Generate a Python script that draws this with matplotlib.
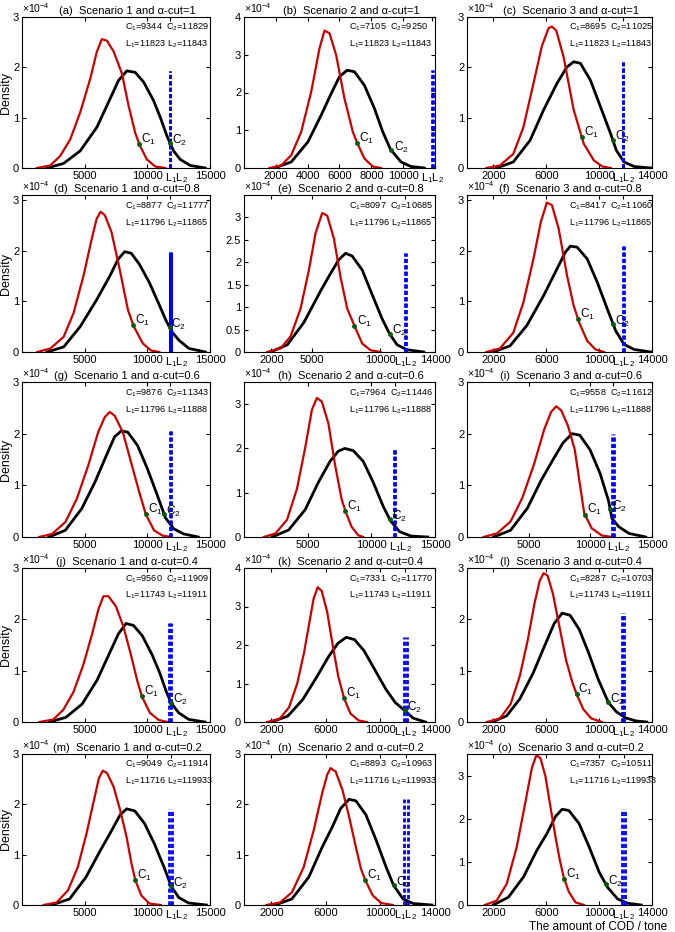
import numpy as np
import matplotlib.pyplot as plt
from matplotlib.transforms import ScaledTranslation

plt.rcParams['font.family'] = ['Liberation Sans', 'DejaVu Sans']
plt.rcParams['mathtext.fontset'] = 'custom'
plt.rcParams['mathtext.rm'] = 'Liberation Sans'

# panel info, order a..o (row by row)
tags = ['(a)', '(b)', '(c)', '(d)', '(e)', '(f)', '(g)', '(h)', '(i)',
        '(j)', '(k)', '(l)', '(m)', '(n)', '(o)']
scenario = [1, 2, 3] * 5
alpha_cut = ['1'] * 3 + ['0.8'] * 3 + ['0.6'] * 3 + ['0.4'] * 3 + ['0.2'] * 3
c1 = [9344, 7105, 8695, 8877, 8097, 8417, 9876, 7964, 9558, 9560, 7331, 8287, 9049, 8893, 7357]
c2 = [11829, 9250, 11025, 11777, 10685, 11060, 11343, 11446, 11612, 11909, 11770, 10703, 11914, 10963, 10511]
l1 = [11823] * 3 + [11796] * 3 + [11796] * 3 + [11743] * 3 + [11716] * 3
l2 = [11843] * 3 + [11865] * 3 + [11888] * 3 + [11911] * 3 + [11993] * 3
l2_text = ['11843'] * 3 + ['11865'] * 3 + ['11888'] * 3 + ['11911'] * 3 + ['119933'] * 3

# density curves (y in units of 1e-4)
red_x = [
    [1190, 2250, 3050, 3850, 4650, 5450, 5970, 6370, 6770, 7300, 7970, 8500, 9030, 9380, 9960, 10630, 11430],
    [1609, 2341, 2968, 3595, 4222, 4744, 5058, 5372, 5790, 6312, 6835, 7106, 7566, 8089, 8611],
    [1473, 2489, 3505, 4267, 5029, 5664, 6172, 6426, 6756, 7315, 8077, 8839, 9601, 10236, 10871],
    [1220, 2272, 3324, 4113, 4902, 5560, 5954, 6270, 6612, 7138, 7795, 8453, 8926, 9637, 10294, 10952],
    [1708, 2684, 3416, 4148, 4758, 5246, 5734, 6100, 6588, 7076, 7564, 8101, 8662, 9272, 10004],
    [1473, 2489, 3505, 4267, 5029, 5588, 6045, 6426, 6934, 7569, 8077, 8509, 9093, 9728, 10363],
    [1362, 2410, 3458, 4375, 5292, 6078, 6602, 6995, 7388, 8043, 8698, 9353, 9877, 10532, 11187, 11842],
    [1560, 2470, 3380, 4160, 4810, 5330, 5720, 6110, 6630, 7150, 7670, 7982, 8450, 8970, 9360],
    [1339, 2435, 3531, 4490, 5449, 6271, 6819, 7230, 7641, 8189, 8737, 9148, 9504, 10107, 10929, 11751],
    [1400, 2500, 3300, 4100, 4900, 5600, 6100, 6500, 6900, 7500, 8100, 8700, 9200, 9560, 10200, 10900, 11600],
    [1700, 2600, 3300, 3900, 4400, 4800, 5100, 5400, 5700, 6100, 6500, 6900, 7331, 7800, 8400, 9000],
    [1500, 2500, 3300, 4000, 4600, 5100, 5500, 5800, 6100, 6500, 7000, 7500, 8000, 8287, 8800, 9400, 10200],
    [1716, 2756, 3666, 4446, 5148, 5746, 6136, 6448, 6786, 7306, 7826, 8346, 8736, 9048, 9516, 10166, 11076],
    [1655, 2643, 3508, 4372, 5113, 5730, 6101, 6348, 6718, 7212, 7706, 8200, 8571, 8892, 9435, 10053, 10917],
    [1349, 2240, 3003, 3767, 4403, 4912, 5243, 5548, 5930, 6312, 6694, 7025, 7330, 7712, 8221, 8857],
]
red_y = [
    [0, 0.05, 0.24, 0.57, 1.11, 1.78, 2.31, 2.56, 2.53, 2.32, 1.88, 1.24, 0.70, 0.46, 0.17, 0.03, 0],
    [0, 0.07, 0.34, 0.96, 2.02, 3.17, 3.64, 3.57, 2.99, 1.84, 0.96, 0.67, 0.25, 0.04, 0],
    [0, 0.05, 0.28, 0.81, 1.68, 2.42, 2.78, 2.81, 2.73, 2.20, 1.15, 0.48, 0.15, 0.03, 0],
    [0, 0.07, 0.30, 0.77, 1.50, 2.23, 2.63, 2.77, 2.70, 2.37, 1.63, 0.83, 0.50, 0.17, 0.03, 0],
    [0, 0.08, 0.35, 0.97, 1.83, 2.65, 3.10, 3.04, 2.53, 1.67, 0.97, 0.58, 0.19, 0.04, 0],
    [0, 0.07, 0.38, 0.98, 1.84, 2.57, 2.95, 2.90, 2.44, 1.51, 0.91, 0.57, 0.22, 0.05, 0],
    [0, 0.06, 0.29, 0.74, 1.39, 2.03, 2.32, 2.42, 2.35, 2.03, 1.45, 0.87, 0.44, 0.13, 0.03, 0],
    [0, 0.08, 0.39, 1.09, 2.02, 2.87, 3.14, 3.06, 2.56, 1.63, 0.85, 0.57, 0.23, 0.04, 0],
    [0, 0.07, 0.30, 0.76, 1.42, 2.09, 2.42, 2.53, 2.45, 2.15, 1.69, 1.03, 0.46, 0.17, 0.03, 0],
    [0, 0.05, 0.24, 0.58, 1.12, 1.72, 2.20, 2.45, 2.45, 2.25, 1.85, 1.30, 0.80, 0.50, 0.18, 0.04, 0],
    [0, 0.08, 0.38, 1.00, 1.80, 2.60, 3.20, 3.50, 3.40, 2.85, 2.00, 1.20, 0.62, 0.22, 0.04, 0],
    [0, 0.07, 0.35, 0.90, 1.60, 2.30, 2.75, 2.90, 2.85, 2.50, 1.85, 1.20, 0.75, 0.55, 0.25, 0.07, 0],
    [0, 0.05, 0.29, 0.75, 1.42, 2.09, 2.52, 2.67, 2.62, 2.35, 1.89, 1.35, 0.82, 0.49, 0.19, 0.03, 0],
    [0, 0.05, 0.25, 0.75, 1.49, 2.22, 2.59, 2.72, 2.65, 2.29, 1.75, 1.15, 0.72, 0.49, 0.19, 0.04, 0],
    [0, 0.10, 0.49, 1.35, 2.36, 3.18, 3.47, 3.41, 2.99, 2.28, 1.58, 1.04, 0.63, 0.30, 0.06, 0],
]
blk_x = [
    [1984, 3314, 4644, 5974, 7038, 7703, 8368, 9033, 9698, 10496, 11028, 11560, 12092, 12624, 13422, 14620],
    [1923, 2968, 4013, 4849, 5476, 5998, 6479, 6939, 7566, 8193, 8715, 9196, 9865, 10492, 11328],
    [2235, 3505, 4775, 5791, 6807, 7569, 8077, 8585, 9347, 10109, 10871, 11303, 11887, 12649, 13919],
    [2009, 3324, 4639, 5954, 7006, 7664, 8190, 8716, 9374, 10163, 10952, 11478, 11951, 12530, 13319, 14633],
    [1952, 3172, 4392, 5612, 6344, 6954, 7442, 7930, 8662, 9394, 10126, 10663, 11224, 11956, 13176],
    [1981, 3251, 4521, 5791, 6807, 7442, 7823, 8331, 9093, 9855, 10617, 11252, 11887, 12649, 13919],
    [2148, 3458, 4768, 5816, 6733, 7388, 7912, 8436, 9222, 10008, 10794, 11449, 12104, 12890, 14069],
    [2210, 3510, 4810, 5850, 6760, 7410, 7930, 8580, 9360, 10140, 10920, 11492, 12220, 13130, 14430],
    [2161, 3531, 4901, 5997, 6956, 7778, 8518, 9148, 9970, 10792, 11477, 11751, 12299, 13121, 14491],
    [2200, 3500, 4800, 6000, 7000, 7700, 8300, 8900, 9600, 10400, 11000, 11500, 11909, 12500, 13300, 14600],
    [2000, 3200, 4300, 5300, 6200, 6900, 7500, 8100, 8800, 9600, 10400, 11100, 11770, 12400, 13300],
    [1900, 3000, 4000, 5000, 5900, 6600, 7200, 7800, 8500, 9200, 9900, 10703, 11300, 12000, 12800, 13600],
    [2366, 3796, 5096, 6266, 7176, 7826, 8346, 8996, 9776, 10556, 11336, 11908, 12506, 13286, 14716],
    [2272, 3507, 4742, 5730, 6471, 7089, 7706, 8200, 8941, 9682, 10423, 10967, 11658, 12399, 13758],
    [1985, 3130, 4276, 5294, 6057, 6694, 7203, 7712, 8475, 9239, 10002, 10638, 11402, 12165, 13183],
]
blk_y = [
    [0, 0.09, 0.34, 0.81, 1.38, 1.74, 1.93, 1.90, 1.71, 1.34, 1.01, 0.64, 0.34, 0.17, 0.05, 0],
    [0, 0.16, 0.69, 1.40, 1.97, 2.42, 2.59, 2.55, 2.19, 1.58, 0.96, 0.50, 0.16, 0.04, 0],
    [0, 0.12, 0.55, 1.15, 1.68, 2.01, 2.11, 2.08, 1.74, 1.21, 0.68, 0.35, 0.12, 0.03, 0],
    [0, 0.10, 0.50, 1.03, 1.50, 1.83, 1.98, 1.95, 1.73, 1.37, 0.93, 0.63, 0.40, 0.23, 0.07, 0],
    [0, 0.16, 0.66, 1.36, 1.75, 2.06, 2.20, 2.14, 1.83, 1.28, 0.74, 0.41, 0.16, 0.05, 0],
    [0, 0.12, 0.52, 1.11, 1.64, 1.97, 2.09, 2.07, 1.84, 1.38, 0.85, 0.42, 0.15, 0.05, 0],
    [0, 0.13, 0.55, 1.06, 1.58, 1.94, 2.05, 2.03, 1.77, 1.32, 0.81, 0.37, 0.16, 0.06, 0],
    [0, 0.16, 0.62, 1.24, 1.71, 1.94, 2.00, 1.95, 1.71, 1.24, 0.70, 0.37, 0.12, 0.02, 0],
    [0, 0.13, 0.56, 1.09, 1.49, 1.82, 2.00, 1.97, 1.69, 1.23, 0.70, 0.36, 0.20, 0.07, 0],
    [0, 0.09, 0.35, 0.82, 1.35, 1.72, 1.92, 1.88, 1.68, 1.30, 0.95, 0.60, 0.37, 0.18, 0.05, 0],
    [0, 0.15, 0.58, 1.15, 1.70, 2.05, 2.20, 2.14, 1.85, 1.35, 0.85, 0.50, 0.30, 0.10, 0],
    [0, 0.12, 0.45, 0.95, 1.50, 1.92, 2.12, 2.08, 1.80, 1.35, 0.85, 0.38, 0.20, 0.08, 0.02, 0],
    [0, 0.12, 0.55, 1.09, 1.49, 1.79, 1.91, 1.87, 1.62, 1.22, 0.75, 0.37, 0.15, 0.04, 0],
    [0, 0.12, 0.55, 1.15, 1.55, 1.92, 2.10, 2.07, 1.79, 1.29, 0.75, 0.39, 0.12, 0.03, 0],
    [0, 0.18, 0.65, 1.27, 1.66, 2.05, 2.22, 2.19, 1.89, 1.35, 0.76, 0.41, 0.14, 0.04, 0],
]

# axis settings per panel
x_right = [15000, 12000, 14000, 15000, 14000, 14000, 15000, 15000, 15000,
           15000, 14000, 14000, 15000, 14000, 14000]
y_top = [3, 4, 3, 3.1, 3.5, 3.1, 3, 3.5, 3, 3, 4, 3, 3, 3, 3.5]
x_ticks = [
    [5000, 10000, 15000], [2000, 4000, 6000, 8000, 10000], [2000, 6000, 10000, 14000],
    [5000, 10000, 15000], [2000, 5000, 10000, 14000], [2000, 6000, 10000, 14000],
    [5000, 10000, 15000], [5000, 10000, 15000], [5000, 10000, 15000],
    [5000, 10000, 15000], [2000, 6000, 10000, 14000], [2000, 6000, 10000, 14000],
    [5000, 10000, 15000], [2000, 6000, 10000, 14000], [2000, 6000, 10000, 14000],
]

# panel placement in pixels (left, top, right, bottom)
col_px = [(22, 210), (244, 435), (467, 652)]
row_px = [(17, 168), (195, 352), (382, 537), (568, 722), (754, 905)]
W, H = 675, 932

fig = plt.figure(figsize=(W / 100, H / 100), dpi=100)

for i in range(15):
    r, c = divmod(i, 3)
    x0, x1 = col_px[c]
    t0, t1 = row_px[r]
    ax = fig.add_axes([x0 / W, 1 - t1 / H, (x1 - x0) / W, (t1 - t0) / H])

    ax.plot(blk_x[i], blk_y[i], color='black', lw=2.0, solid_joinstyle='round')
    ax.plot(red_x[i], red_y[i], color='#cc0000', lw=1.6, solid_joinstyle='round')

    h = max(blk_y[i])
    if i == 3:
        ax.vlines([l1[i], l2[i]], 0, h, colors='#0000ff', lw=2.2)
    else:
        ax.vlines([l1[i], l2[i]], 0, h, colors='#0000ff', lw=2.0, linestyles=(0, (1.5, 0.8)))

    y1 = np.interp(c1[i], red_x[i], red_y[i])
    y2 = np.interp(c2[i], blk_x[i], blk_y[i])
    ax.plot([c1[i], c2[i]], [y1, y2], 'o', color='#0a5a0a', ms=2.5, zorder=5)
    ax.text(c1[i] + 150, y1 + 0.03 * y_top[i], 'C$_1$', fontsize=8.5, va='center')
    ax.text(c2[i] + 150, y2 + 0.02 * y_top[i], 'C$_2$', fontsize=8.5, va='center')

    ax.text(0.55, 0.93, 'C$_1$=%d  C$_2$=%d' % (c1[i], c2[i]), transform=ax.transAxes,
            fontsize=6.6, va='center')
    ax.text(0.55, 0.82, 'L$_1$=%d L$_2$=%s' % (l1[i], l2_text[i]), transform=ax.transAxes,
            fontsize=6.6, va='center')

    ax.set_xlim(0, x_right[i])
    ax.set_ylim(0, y_top[i])
    lmid = (l1[i] + l2[i]) / 2
    ax.set_xticks(x_ticks[i] + [lmid])
    ax.set_xticklabels([str(t) for t in x_ticks[i]] + ['L$_1$L$_2$'])
    if i == 4:
        ax.set_yticks([0, 0.5, 1, 1.5, 2, 2.5, 3])
        ax.set_yticklabels(['0', '0.5', '1', '1.5', '2', '2.5', '3'])
    else:
        yt = list(range(0, int(y_top[i]) + 1))
        ax.set_yticks(yt)
        ax.set_yticklabels([str(t) for t in yt])
    ax.tick_params(direction='in', top=True, right=True, labelsize=8, length=3, pad=2)
    # L1L2 label starts at the limit line on the 0-15000 panels, like the original
    if x_right[i] == 15000:
        lab = ax.get_xticklabels()[-1]
        lab.set_horizontalalignment('left')
        lab.set_transform(lab.get_transform() + ScaledTranslation(-4 / 72, 0, fig.dpi_scale_trans))
    for s in ax.spines.values():
        s.set_linewidth(0.8)

    ax.text(0.0, 1.01, '×10$^{-4}$', transform=ax.transAxes, fontsize=7.5, va='bottom', ha='left')
    ax.set_title('%s  Scenario %d and α-cut=%s' % (tags[i], scenario[i], alpha_cut[i]),
                 fontsize=8, pad=2, x=0.56)
    if c == 0:
        ax.set_ylabel('Density', fontsize=9, labelpad=1)
    if i == 14:
        ax.text(1.08, -0.143, 'The amount of COD / tone', transform=ax.transAxes,
                fontsize=8.5, ha='right', va='center')

fig.savefig('out.png', dpi=100)
